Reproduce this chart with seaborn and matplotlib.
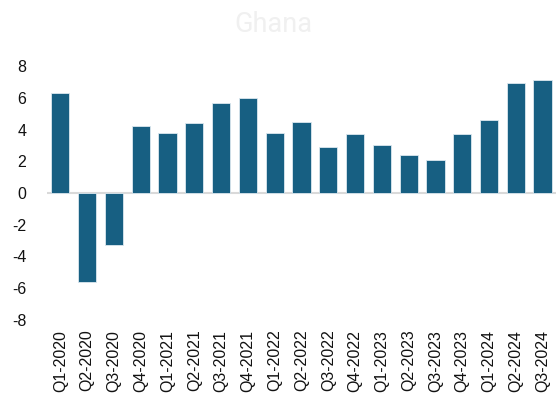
import pandas as pd
import seaborn as sns
import numpy as np
import matplotlib.pyplot as plt

# quarterly GDP growth, Ghana (%)
quarters = ['Q1-2020', 'Q2-2020', 'Q3-2020', 'Q4-2020',
            'Q1-2021', 'Q2-2021', 'Q3-2021', 'Q4-2021',
            'Q1-2022', 'Q2-2022', 'Q3-2022', 'Q4-2022',
            'Q1-2023', 'Q2-2023', 'Q3-2023', 'Q4-2023',
            'Q1-2024', 'Q2-2024', 'Q3-2024']
growth = [6.3, -5.6, -3.3, 4.2,
          3.8, 4.4, 5.7, 6.0,
          3.8, 4.5, 2.9, 3.7,
          3.0, 2.4, 2.1, 3.7,
          4.6, 6.9, 7.1]

df = pd.DataFrame({'quarter': quarters, 'growth': growth})

sns.set_style('white')
plt.rcParams['font.family'] = ['Liberation Sans', 'DejaVu Sans']
plt.rcParams['axes.unicode_minus'] = False

fig = plt.figure(figsize=(5.56, 4), dpi=100)
ax = fig.add_axes([0.0845, 0.2, 0.9155, 0.635])

sns.barplot(data=df, x='quarter', y='growth', color='#175f82', saturation=1,
            width=0.68, edgecolor='#dce8ef', linewidth=0.6, ax=ax)

ax.axhline(0, color='#d9d9d9', linewidth=1.5, zorder=0)
ax.set_ylim(-8, 8)
ax.set_xlim(-0.5, len(quarters) - 0.5)
ax.set_yticks(np.arange(-8, 9, 2))
ax.set_xlabel('')
ax.set_ylabel('')
ax.tick_params(axis='y', length=0, pad=15, labelsize=11.5, labelcolor='#111111')
ax.tick_params(axis='x', length=0, pad=7, labelsize=11.5, labelcolor='#111111', rotation=90)
sns.despine(ax=ax, left=True, bottom=True)

fig.text(0.492, 0.938, 'Ghana', ha='center', va='center', fontsize=19.5,
         color='#f0f0f0', family=['Roboto', 'DejaVu Sans'])

fig.savefig('out.png', dpi=100)
